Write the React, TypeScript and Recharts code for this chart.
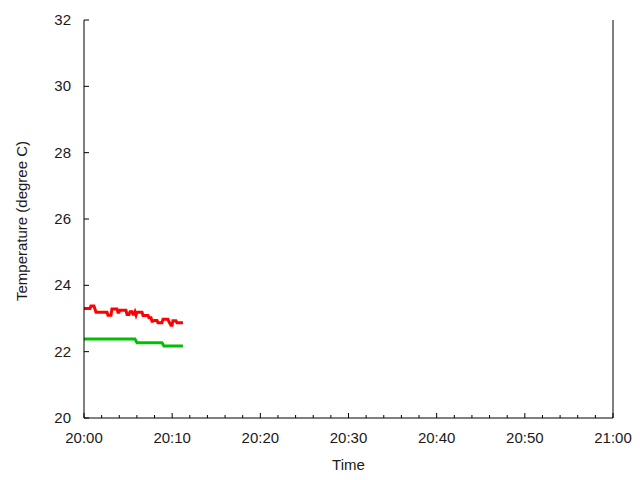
import React from "react";
import { Line, LineChart, XAxis, YAxis } from "recharts";

// minutes after 20:00
const xTicks = [0, 2, 4, 6, 8, 10, 12, 14, 16, 18, 20, 22, 24, 26, 28, 30, 32, 34, 36, 38, 40, 42, 44, 46, 48, 50, 52, 54, 56, 58, 60];
const yTicks = [20, 22, 24, 26, 28, 30, 32];

const redTimes = [0, 0.68, 0.79, 1.13, 1.36, 2.61, 2.72, 3.06, 3.17, 3.74, 3.85, 3.97, 4.08, 4.76, 4.88, 5.1, 5.22, 5.44, 5.56, 5.67, 5.78, 5.9, 6.01, 6.58, 6.69, 7.26, 7.37, 7.6, 7.71, 7.82, 7.94, 8.28, 8.39, 8.84, 8.96, 9.52, 9.64, 9.86, 9.98, 10.09, 10.43, 10.54, 11.22];
const redValues = [23.3, 23.3, 23.38, 23.38, 23.19, 23.19, 23.1, 23.1, 23.29, 23.29, 23.19, 23.19, 23.25, 23.25, 23.12, 23.12, 23.2, 23.2, 23.13, 23.13, 23.2, 23.1, 23.19, 23.19, 23.09, 23.09, 23.02, 23.02, 22.92, 22.92, 22.94, 22.94, 22.87, 22.87, 22.98, 22.98, 22.9, 22.8, 22.8, 22.93, 22.93, 22.87, 22.87];

const greenTimes = [0, 5.78, 6.01, 8.84, 9.07, 11.22];
const greenValues = [22.38, 22.38, 22.27, 22.27, 22.17, 22.17];

const redData = redTimes.map((t, i) => ({ t, v: redValues[i] }));
const greenData = greenTimes.map((t, i) => ({ t, v: greenValues[i] }));

const FONT = "'Liberation Sans', Arial, sans-serif";
const INK = "#1a1a1a";

function fmtTime(m: number) {
  if (m >= 60) return "21:00";
  return `20:${String(m).padStart(2, "0")}`;
}

function BottomTick({ x, y, payload }: any) {
  const major = payload.value % 10 === 0;
  return (
    <g>
      <line x1={x} x2={x} y1={y} y2={y - (major ? 5 : 3)} stroke="#000" />
      {major && (
        <text x={x} y={y + 25} textAnchor="middle" fontSize={15} fontFamily={FONT} fill={INK}>
          {fmtTime(payload.value)}
        </text>
      )}
    </g>
  );
}

function TopTick({ x, y, payload }: any) {
  const major = payload.value % 10 === 0;
  return <line x1={x} x2={x} y1={y} y2={y + (major ? 5 : 3)} stroke="#000" />;
}

function LeftTick({ x, y, payload }: any) {
  return (
    <g>
      <line x1={x} x2={x + 5} y1={y} y2={y} stroke="#000" />
      <text x={x - 13} y={y + 5} textAnchor="end" fontSize={15} fontFamily={FONT} fill={INK}>
        {payload.value}
      </text>
    </g>
  );
}

function RightTick({ x, y }: any) {
  return <line x1={x} x2={x - 5} y1={y} y2={y} stroke="#000" />;
}

export default function App() {
  return (
    <div style={{ position: "absolute", left: 0, top: 0, width: 640, height: 480, background: "#fff" }}>
      <LineChart width={640} height={480} margin={{ top: 20, right: 0, bottom: 0, left: 0 }}>
        <XAxis
          xAxisId="bottom"
          dataKey="t"
          type="number"
          domain={[0, 60]}
          ticks={xTicks}
          interval={0}
          height={62}
          tickSize={0}
          tickMargin={0}
          tick={<BottomTick />}
          axisLine={{ stroke: "#000" }}
          label={{
            content: () => (
              <text x={348.5} y={470} textAnchor="middle" fontSize={15} fontFamily={FONT} fill={INK}>
                Time
              </text>
            ),
          }}
        />
        <XAxis
          xAxisId="top"
          orientation="top"
          dataKey="t"
          type="number"
          domain={[0, 60]}
          ticks={xTicks}
          interval={0}
          height={0}
          tickSize={0}
          tickMargin={0}
          tick={<TopTick />}
          axisLine={{ stroke: "#000" }}
        />
        <YAxis
          yAxisId="left"
          type="number"
          domain={[20, 32]}
          ticks={yTicks}
          interval={0}
          width={84}
          tickSize={0}
          tickMargin={0}
          tick={<LeftTick />}
          axisLine={{ stroke: "#000" }}
          label={{
            content: () => (
              <text
                x={27}
                y={221}
                transform="rotate(-90, 27, 221)"
                textAnchor="middle"
                fontSize={15}
                fontFamily={FONT}
                fill={INK}
              >
                Temperature (degree C)
              </text>
            ),
          }}
        />
        <YAxis
          yAxisId="right"
          orientation="right"
          type="number"
          domain={[20, 32]}
          ticks={yTicks}
          interval={0}
          width={27}
          tickSize={0}
          tickMargin={0}
          tick={<RightTick />}
          axisLine={{ stroke: "#000" }}
        />
        <Line
          xAxisId="bottom"
          yAxisId="left"
          data={redData}
          dataKey="v"
          type="linear"
          stroke="#ff0000"
          strokeWidth={3}
          dot={false}
          activeDot={false}
          isAnimationActive={false}
        />
        <Line
          xAxisId="bottom"
          yAxisId="left"
          data={greenData}
          dataKey="v"
          type="linear"
          stroke="#00c000"
          strokeWidth={3}
          dot={false}
          activeDot={false}
          isAnimationActive={false}
        />
      </LineChart>
    </div>
  );
}
